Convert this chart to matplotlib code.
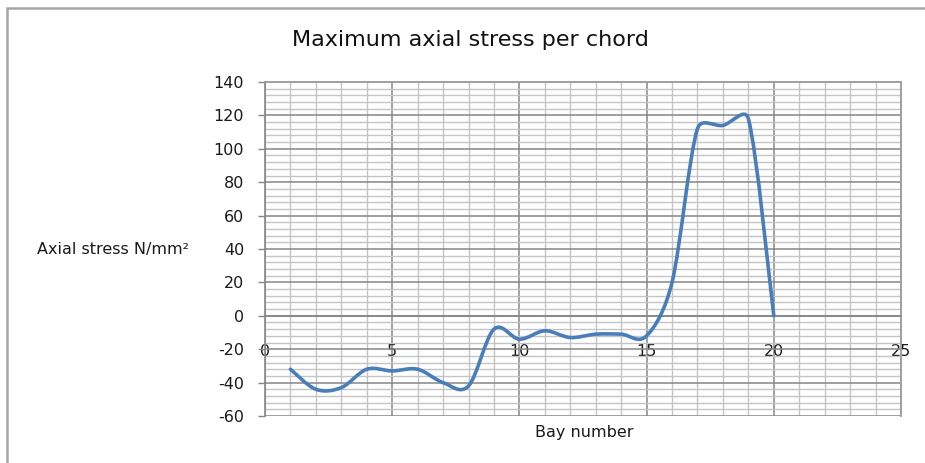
import matplotlib.pyplot as plt
import numpy as np
from matplotlib.path import Path
from matplotlib.patches import PathPatch, Rectangle
from matplotlib.ticker import MultipleLocator

# Maximum axial stress in each bay (N/mm^2)
bay = [1, 2, 3, 4, 5, 6, 7, 8, 9, 10, 11, 12, 13, 14, 15, 16, 17, 18, 19, 20]
stress = [-32, -44, -43, -32, -33, -32, -40, -42, -8, -14, -9, -13, -11, -11, -12, 20, 112, 114, 118, 0]

x_ticks = [0, 5, 10, 15, 20, 25]
y_ticks = [-60, -40, -20, 0, 20, 40, 60, 80, 100, 120, 140]

# pixels per data unit, so the smoothing works in screen proportions
SX, SY = 25.44, 1.675


def smooth_path(x, y, k=1.0 / 6, cap=0.5):
    # smoothed line: cubic Bezier segments through every point.
    # handle = (next - prev) * k, shortened to cap * segment length
    p = np.column_stack([np.asarray(x, float) * SX, np.asarray(y, float) * SY])
    n = len(p)
    h = np.array([(p[min(i + 1, n - 1)] - p[max(i - 1, 0)]) * k for i in range(n)])
    verts = [p[0]]
    codes = [Path.MOVETO]
    for i in range(n - 1):
        L = np.hypot(*(p[i + 1] - p[i]))
        a, b = h[i].copy(), h[i + 1].copy()
        for v in (a, b):
            m = np.hypot(*v)
            if m > cap * L:
                v *= cap * L / m
        verts += [p[i] + a, p[i + 1] - b, p[i + 1]]
        codes += [Path.CURVE4] * 3
    verts = np.array(verts) / [SX, SY]
    return Path(verts, codes)


plt.rcParams['font.family'] = ['DejaVu Sans']
plt.rcParams['axes.unicode_minus'] = False

fig = plt.figure(figsize=(9.25, 4.63), dpi=100)
fig.patch.set_facecolor('white')

# chart frame
fig.patches.append(Rectangle((7 / 925, -0.2), 1.2, 1.2 - 8 / 463, transform=fig.transFigure,
                             fill=False, edgecolor='#a6a6a6', lw=1.8))

ax = fig.add_axes([265 / 925, 1 - 416 / 463, 636 / 925, 334 / 463])
ax.set_xlim(0, 25)
ax.set_ylim(-60, 140)

ax.xaxis.set_minor_locator(MultipleLocator(1))
ax.yaxis.set_minor_locator(MultipleLocator(4))
ax.set_xticks(x_ticks)
ax.set_yticks(y_ticks)
ax.grid(which='minor', color='#c4c4c4', lw=1.0)
ax.grid(which='major', color='#868686', lw=1.1)
ax.set_axisbelow(True)

for side in ['top', 'right']:
    ax.spines[side].set_color('#a0a0a0')
    ax.spines[side].set_linewidth(1.4)
ax.spines['left'].set_color('#868686')
ax.spines['left'].set_linewidth(1.2)
ax.spines['bottom'].set_position(('data', 0))
ax.spines['bottom'].set_color('#868686')
ax.spines['bottom'].set_linewidth(1.2)

ax.tick_params(axis='y', direction='out', length=5, width=1, color='#868686',
               pad=10, labelsize=11.5, labelcolor='#1a1a1a')
ax.tick_params(axis='x', length=0, pad=20, labelsize=11.5, labelcolor='#1a1a1a')
ax.tick_params(which='minor', length=0)

ax.add_patch(PathPatch(smooth_path(bay, stress), facecolor='none', edgecolor='#4a7ebb',
                       lw=2.6, capstyle='round', joinstyle='round', zorder=3))

fig.text(470 / 925, 1 - 40 / 463, 'Maximum axial stress per chord', ha='center', va='center',
         fontsize=16, color='#111111')
fig.text(37 / 925, 1 - 250 / 463, 'Axial stress N/mm²', ha='left', va='center',
         fontsize=11.5, color='#1a1a1a')
fig.text(584 / 925, 1 - 432 / 463, 'Bay number', ha='center', va='center',
         fontsize=11.5, color='#1a1a1a')

fig.savefig('out.png', dpi=100)
